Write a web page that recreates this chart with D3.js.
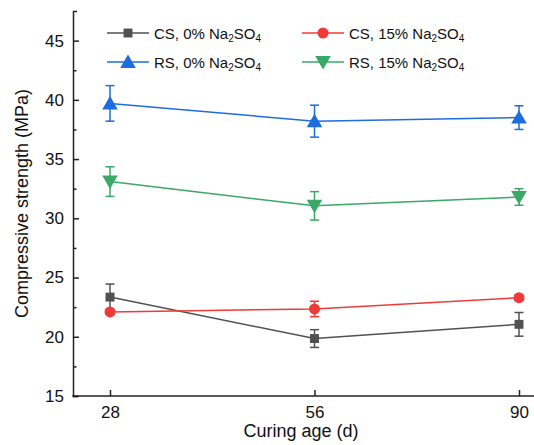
<!DOCTYPE html>
<html>
<head>
<meta charset="utf-8">
<script src="https://cdn.jsdelivr.net/npm/d3@7"></script>
<style>
  html, body { margin: 0; padding: 0; background: #fff; }
  svg { display: block; font-family: "Liberation Sans", Arial, sans-serif; }
</style>
</head>
<body>
<svg id="chart" width="534" height="445"></svg>
<script>
// ---- data ----
const ages = ["28", "56", "90"];
const cs0 = [23.35, 19.85, 21.05];
const cs0Err = [1.1, 0.75, 1.0];
const cs15 = [22.1, 22.35, 23.3];
const cs15Err = [0.2, 0.65, 0.25];
const rs0 = [39.7, 38.2, 38.5];
const rs0Err = [1.5, 1.35, 1.0];
const rs15 = [33.1, 31.05, 31.8];
const rs15Err = [1.25, 1.2, 0.7];
const yTicks = [15, 20, 25, 30, 35, 40, 45];
const yMinorTicks = [17.5, 22.5, 27.5, 32.5, 37.5, 42.5];

const seriesList = [
  { prefix: "CS, 0% Na", values: cs0, err: cs0Err, color: "#515151", symbol: d3.symbolSquare, size: 80, rotate: 0 },
  { prefix: "CS, 15% Na", values: cs15, err: cs15Err, color: "#ef3a3a", symbol: d3.symbolCircle, size: 95, rotate: 0 },
  { prefix: "RS, 0% Na", values: rs0, err: rs0Err, color: "#1d6ce0", symbol: d3.symbolTriangle, size: 105, rotate: 0 },
  { prefix: "RS, 15% Na", values: rs15, err: rs15Err, color: "#3aa867", symbol: d3.symbolTriangle, size: 105, rotate: 180 }
];

// ---- layout ----
const svg = d3.select("#chart");
const axisLeftX = 73, axisBottomY = 396, axisTopY = 11, axisRightX = 534;

const x = d3.scalePoint().domain(ages).range([110, 519]);
const y = d3.scaleLinear().domain([15, 47.5]).range([axisBottomY, axisTopY]);

// ---- axes ----
const yAxisG = svg.append("g").attr("transform", `translate(${axisLeftX},0)`)
  .call(d3.axisLeft(y).tickValues(yTicks).tickSize(-6).tickSizeOuter(-4).tickPadding(9).tickFormat(d3.format("d")));
yAxisG.selectAll("text").attr("font-size", 17).attr("fill", "#111").attr("font-family", "Liberation Sans, Arial, sans-serif");
yAxisG.selectAll("line, path").attr("stroke", "#222").attr("stroke-width", 1.5);

const yMinorG = svg.append("g").attr("transform", `translate(${axisLeftX},0)`)
  .call(d3.axisLeft(y).tickValues(yMinorTicks).tickSize(-3.5).tickFormat(""));
yMinorG.select(".domain").remove();
yMinorG.selectAll("line").attr("stroke", "#222").attr("stroke-width", 1.5);

const xAxisG = svg.append("g").attr("transform", `translate(0,${axisBottomY})`)
  .call(d3.axisBottom(x).tickSize(-6).tickSizeOuter(0).tickPadding(10));
xAxisG.select(".domain").remove();
xAxisG.selectAll("text").attr("font-size", 17).attr("fill", "#111").attr("font-family", "Liberation Sans, Arial, sans-serif");
xAxisG.selectAll("line").attr("stroke", "#222").attr("stroke-width", 1.5);
svg.append("line")
  .attr("x1", axisLeftX - 0.75).attr("x2", axisRightX)
  .attr("y1", axisBottomY).attr("y2", axisBottomY)
  .attr("stroke", "#222").attr("stroke-width", 1.5);

// axis titles
svg.append("text")
  .attr("x", 301).attr("y", 437)
  .attr("text-anchor", "middle").attr("font-size", 18).attr("fill", "#111")
  .text("Curing age (d)");
svg.append("text")
  .attr("transform", `translate(28,${(axisTopY + axisBottomY) / 2}) rotate(-90)`)
  .attr("text-anchor", "middle").attr("font-size", 18).attr("fill", "#111")
  .text("Compressive strength (MPa)");

// ---- series ----
const line = d3.line().x((d, i) => x(ages[i])).y(d => y(d));
const capW = 4.5;

seriesList.forEach(s => {
  const g = svg.append("g");
  g.append("path").datum(s.values)
    .attr("d", line).attr("fill", "none")
    .attr("stroke", s.color).attr("stroke-width", 1.5);
  s.values.forEach((v, i) => {
    const cx = x(ages[i]);
    const top = y(v + s.err[i]), bot = y(v - s.err[i]);
    g.append("line").attr("x1", cx).attr("x2", cx).attr("y1", top).attr("y2", bot)
      .attr("stroke", s.color).attr("stroke-width", 1.5);
    [top, bot].forEach(yy => {
      g.append("line").attr("x1", cx - capW).attr("x2", cx + capW).attr("y1", yy).attr("y2", yy)
        .attr("stroke", s.color).attr("stroke-width", 1.5);
    });
  });
  s.values.forEach((v, i) => {
    const yoff = s.symbol === d3.symbolTriangle ? (s.rotate ? -1.5 : 1.5) : 0;
    g.append("path")
      .attr("d", d3.symbol().type(s.symbol).size(s.size)())
      .attr("transform", `translate(${x(ages[i])},${y(v) + yoff}) rotate(${s.rotate})`)
      .attr("fill", s.color);
  });
});

// ---- legend ----
const legendPos = [
  { lx: 107, ly: 33 }, { lx: 302, ly: 33 },
  { lx: 107, ly: 62 }, { lx: 302, ly: 62 }
];
seriesList.forEach((s, i) => {
  const p = legendPos[i];
  const g = svg.append("g").attr("transform", `translate(${p.lx},${p.ly})`);
  g.append("line").attr("x1", 0).attr("x2", 42).attr("y1", 0).attr("y2", 0)
    .attr("stroke", s.color).attr("stroke-width", 1.5);
  const yoff = s.symbol === d3.symbolTriangle ? (s.rotate ? -1.5 : 1.5) : 0;
  g.append("path")
    .attr("d", d3.symbol().type(s.symbol).size(s.size)())
    .attr("transform", `translate(21,${yoff}) rotate(${s.rotate})`)
    .attr("fill", s.color);
  const t = g.append("text").attr("x", 47).attr("y", 5.5).attr("font-size", 15).attr("fill", "#111");
  t.append("tspan").text(s.prefix);
  t.append("tspan").attr("font-size", 10).attr("dy", 3).text("2");
  t.append("tspan").attr("dy", -3).text("SO");
  t.append("tspan").attr("font-size", 10).attr("dy", 3).text("4");
});
</script>
</body>
</html>
